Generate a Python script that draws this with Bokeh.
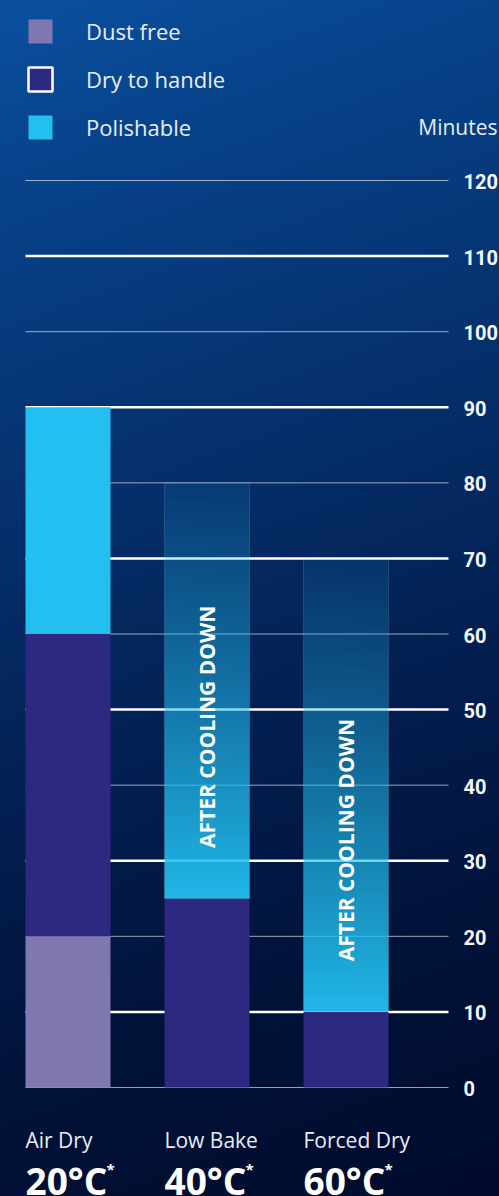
import numpy as np
from bokeh.plotting import figure
from bokeh.models import Range1d, Legend, LegendItem, ColumnDataSource
from bokeh.core.properties import value
from bokeh.embed import file_html
from bokeh.resources import INLINE

# ---------------- data ----------------
categories = ["Air Dry", "Low Bake", "Forced Dry"]
temperatures = ["20°C", "40°C", "60°C"]
dust_free = [20, 0, 0]          # minutes (segment heights)
dry_to_handle = [40, 25, 10]
polishable = [30, 55, 60]
after_cooling = [False, True, True]
thin_ticks = [0, 20, 40, 60, 80, 100, 120]
thick_ticks = [10, 30, 50, 70, 90, 110]
y_ticks = sorted(thin_ticks + thick_ticks)
axis_title = "Minutes"
series_names = ["Dust free", "Dry to handle", "Polishable"]

# ---------------- styles ----------------
DUST = "#8078b0"
DRY = "#2d2880"
POL = "#22bff0"
TXT = "#e8eef6"
FONT = "Open Sans"

W, H = 499, 1196
PX = 7.558                       # pixels per minute
Y_ZERO = 1087                    # pixel row of 0 minutes
XPX = 139.0                      # pixels per category step
X_ZERO = 67.5                    # pixel column of first category
BAR_W = 85 / XPX


def xd(px):
    return (px - X_ZERO) / XPX


def yd(py):
    return (Y_ZERO - py) / PX


xs = list(range(len(categories)))
d_bot = [0] * len(xs)
d_top = list(dust_free)
h_bot = d_top
h_top = [a + b for a, b in zip(d_top, dry_to_handle)]
p_bot = h_top
p_top = [a + b for a, b in zip(h_top, polishable)]

p = figure(width=W, height=H, output_backend="svg", toolbar_location=None,
           x_range=Range1d(xd(0), xd(W)), y_range=Range1d(yd(H), yd(0)),
           x_axis_location=None, y_axis_location=None,
           min_border=0, border_fill_color=None, background_fill_color=None,
           outline_line_color=None)
p.styles = {"background": "linear-gradient(160deg, #0b509e 0%, #07428a 14%, #05306c 38%, #031e50 60%, #011238 80%, #000b2c 100%)"}
p.xgrid.visible = False
p.ygrid.visible = False

# grid lines (value axis) and tick labels
g_left, g_right = xs[0] - BAR_W / 2, xd(448)
p.segment(x0=[g_left] * len(thin_ticks), x1=[g_right] * len(thin_ticks),
          y0=thin_ticks, y1=thin_ticks, line_color="white", line_alpha=0.6, line_width=1)
p.segment(x0=[g_left] * len(thick_ticks), x1=[g_right] * len(thick_ticks),
          y0=thick_ticks, y1=thick_ticks, line_color="white", line_alpha=1.0, line_width=2.5)
p.text(x=[xd(463)] * len(y_ticks), y=y_ticks, text=[str(t) for t in y_ticks],
       text_align="left", text_baseline="middle", text_color="#f4f7fb", y_offset=1,
       text_font=value("Roboto"), text_font_style="bold", text_font_size="20px")
p.text(x=[xd(497)], y=[yd(126)], text=[axis_title], text_align="right",
       text_baseline="alphabetic", text_color=TXT, text_font=value(FONT),
       text_font_size="21px")

# bars
p.vbar(x=xs, bottom=d_bot, top=d_top, width=BAR_W, fill_color=DUST, line_color=None)
p.vbar(x=xs, bottom=h_bot, top=h_top, width=BAR_W, fill_color=DRY, line_color=None)

solid_idx = [i for i in xs if not after_cooling[i]]
p.vbar(x=[xs[i] for i in solid_idx], bottom=[p_bot[i] for i in solid_idx],
       top=[p_top[i] for i in solid_idx], width=BAR_W, fill_color=POL, line_color=None)

# fading polishable bars (after cooling down)
n_rows = 256
rgb = (34, 191, 240)
fade_idx = [i for i in xs if after_cooling[i]]
for i in fade_idx:
    img = np.empty((n_rows, 4), dtype=np.uint32)
    view = img.view(dtype=np.uint8).reshape((n_rows, 4, 4))
    t = np.linspace(0, 1, n_rows)[:, None]
    alpha = 0.95 - 0.86 * t
    view[:, :, 0] = rgb[0]
    view[:, :, 1] = rgb[1]
    view[:, :, 2] = rgb[2]
    view[:, :, 3] = (alpha * 255).astype(np.uint8)
    p.image_rgba(image=[img], x=xs[i] - BAR_W / 2, y=p_bot[i], dw=BAR_W, dh=p_top[i] - p_bot[i])
p.vbar(x=[xs[i] for i in fade_idx], bottom=[p_bot[i] for i in fade_idx],
       top=[p_top[i] for i in fade_idx], width=BAR_W, fill_color=None,
       line_color="white", line_alpha=0.12, line_width=1)

p.text(x=[xs[i] for i in fade_idx], y=[p_bot[i] + 6.7 for i in fade_idx],
       text=["AFTER COOLING DOWN"] * len(fade_idx), angle=np.pi / 2,
       text_align="left", text_baseline="middle", text_color="white",
       text_font=value(FONT), text_font_style="bold", text_font_size="21px")

# category labels
left_edges = [x - BAR_W / 2 for x in xs]
p.text(x=left_edges, y=[yd(1139)] * 3, text=categories,
       text_align="left", text_baseline="alphabetic", text_color=TXT,
       text_font=value(FONT), text_font_size="21px")
p.text(x=left_edges, y=[yd(1180)] * 3, text=temperatures,
       text_align="left", text_baseline="alphabetic", text_color="white",
       text_font=value(FONT), text_font_style="bold", text_font_size="37px")
p.text(x=[e + 81 / XPX for e in left_edges], y=[yd(1158)] * 3, text=["*"] * 3,
       text_align="left", text_baseline="top", text_color="white",
       text_font=value(FONT), text_font_style="bold", text_font_size="15px")

# legend with proxy swatches (not drawn in the plot area)
nan = float("nan")
src = ColumnDataSource(dict(left=[nan], right=[nan], bottom=[nan], top=[nan]))
r1 = p.quad(left="left", right="right", bottom="bottom", top="top", source=src,
            fill_color=DUST, line_color=None)
r2 = p.quad(left="left", right="right", bottom="bottom", top="top", source=src,
            fill_color=DRY, line_color="white", line_width=2.5)
r3 = p.quad(left="left", right="right", bottom="bottom", top="top", source=src,
            fill_color=POL, line_color=None)
legend = Legend(items=[LegendItem(label=series_names[0], renderers=[r1]),
                       LegendItem(label=series_names[1], renderers=[r2]),
                       LegendItem(label=series_names[2], renderers=[r3])],
                location=(25, H - 16 - 126), orientation="vertical",
                glyph_width=30, glyph_height=30, label_standoff=31, spacing=18,
                padding=0, margin=0, background_fill_alpha=0, border_line_color=None,
                label_text_color=TXT, label_text_font=FONT, label_text_font_size="22px")
p.add_layout(legend)

open("out.html", "w").write(file_html(p, INLINE))
